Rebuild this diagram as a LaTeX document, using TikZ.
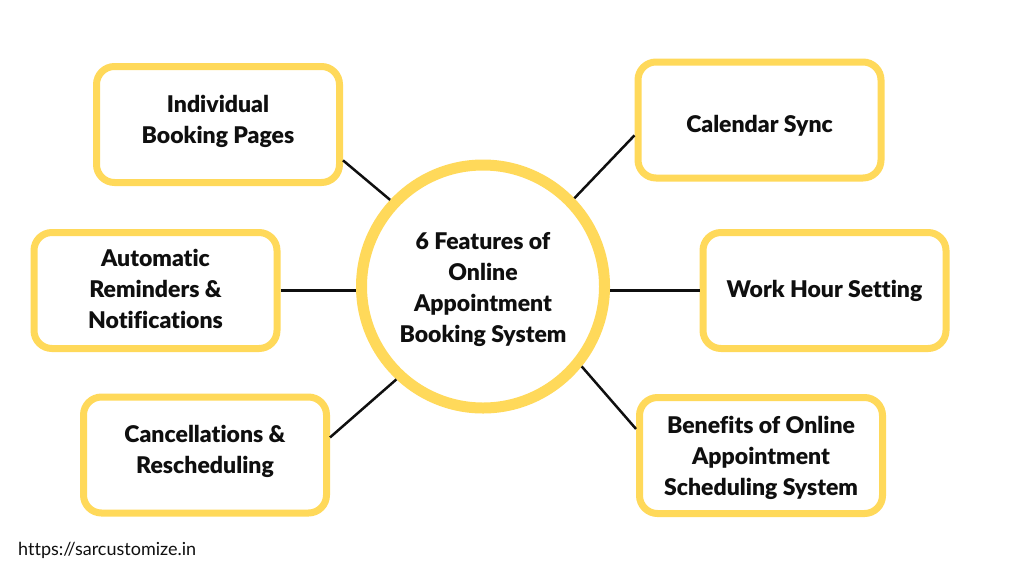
\documentclass[tikz,border=0pt]{standalone}
\usepackage{fontspec}
\setmainfont{Lato}[Ligatures=NoCommon, BoldFont={Lato Black}]
\definecolor{yel}{RGB}{255,217,90}
\definecolor{ink}{RGB}{15,15,15}
\begin{document}
\begin{tikzpicture}[x=1pt,y=-1pt,
  fbox/.style={draw=yel, line width=7pt, fill=white, rounded corners=18pt,
    minimum width=243pt, minimum height=116pt},
  hub/.style={circle, draw=yel, line width=11pt, fill=white, minimum size=243pt, inner sep=0pt},
  txt/.style={align=center, text=ink, inner sep=0pt,
    font=\bfseries\fontsize{23}{31}\selectfont},
  link/.style={draw=ink, line width=2.5pt}]
\useasboundingbox[fill=white] (0,0) rectangle (1024,576);
\node[hub] (c) at (483,286.5) {};
\node[fbox] (b1) at (218,124.5) {};
\node[fbox] (b2) at (155.5,290.5) {};
\node[fbox] (b3) at (205,455) {};
\node[fbox] (b4) at (759.5,120) {};
\node[fbox] (b5) at (824.5,290.5) {};
\node[fbox] (b6) at (761,455.5) {};
\node[txt] (t0) at ([yshift=-3pt]c.center) {6 Features of\\Online\\Appointment\\Booking System};
\node[txt] (t1) at ([yshift=3pt]b1.center) {Individual\\Booking Pages};
\node[txt] (t2) at ([yshift=2pt]b2.center) {Automatic\\Reminders \&\\Notifications};
\node[txt] (t3) at ([yshift=4pt]b3.center) {Cancellations \&\\Rescheduling};
\node[txt] (t4) at ([yshift=-6pt]b4.center) {Calendar Sync};
\node[txt] (t5) at (b5.center) {Work Hour Setting};
\node[txt] (t6) at ([yshift=-2pt]b6.center) {Benefits of Online\\Appointment\\Scheduling System};
\draw[link] (b1.-16) -- (c.137.7);
\draw[link] (b2.east) -- (b2.east -| c.west);
\draw[link] (b3.8.2) -- (c.227.2);
\draw[link] (b4.187.5) -- (c.44.4);
\draw[link] (c.east |- b5.west) -- (b5.west);
\draw[link] (b6.168.7) -- (c.-39.7);
\node[anchor=west, text=ink, font=\fontsize{18}{18}\selectfont, inner sep=0pt] (url) at (18,550) {https://sarcustomize.in};
\end{tikzpicture}
\end{document}
